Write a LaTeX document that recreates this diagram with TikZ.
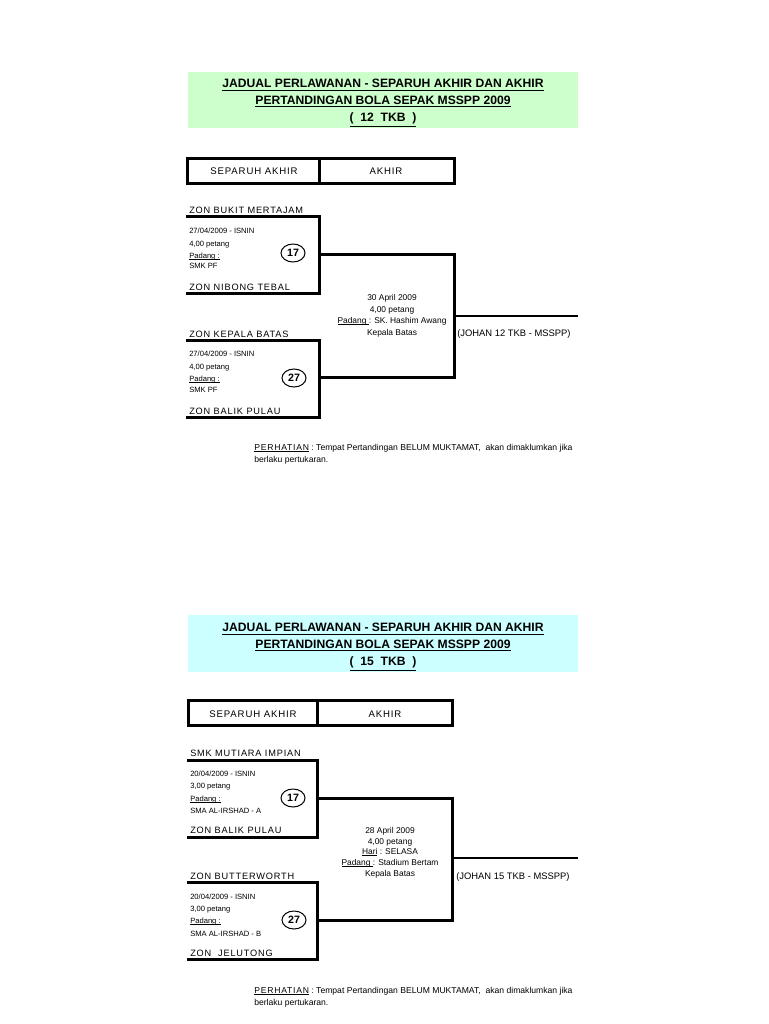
\documentclass[tikz,border=0pt]{standalone}
\usepackage{fontspec}
\setmainfont{Liberation Sans}
\newfontfamily\spc[LetterSpace=9]{Liberation Sans}
\usetikzlibrary{shapes.geometric}
\definecolor{tgreen}{RGB}{204,255,204}
\definecolor{tcyan}{RGB}{204,255,255}
\newcommand\myul[1]{\setbox0\hbox{#1}\rlap{\rule[-0.9pt]{\wd0}{0.5pt}}{#1}}
\tikzset{
  px/.style={x=0.75pt,y=-0.75pt},
  bl/.style={line width=2.25pt,line cap=rect},
  jl/.style={line width=1.6pt},
  titletext/.style={align=center,inner sep=0pt,font=\bfseries\fontsize{9.1}{12.6}\selectfont},
  hdr/.style={inner sep=0pt,font=\spc\fontsize{7.2}{8}\selectfont},
  zone/.style={anchor=west,inner sep=0pt,text height=5pt,text depth=0.5pt,font=\spc\fontsize{6.9}{8}\selectfont},
  info/.style={anchor=west,inner sep=0pt,text height=4.2pt,text depth=1.4pt,font=\fontsize{5.7}{6}\selectfont},
  midtxt/.style={inner sep=0pt,text height=4.6pt,text depth=1.5pt,font=\fontsize{6.3}{7}\selectfont},
  johan/.style={anchor=west,inner sep=0pt,text height=5pt,text depth=1.6pt,font=\fontsize{7.05}{8}\selectfont},
  note/.style={anchor=west,inner sep=0pt,text height=4.6pt,text depth=1.5pt,font=\fontsize{6.45}{7}\selectfont},
  numel/.style={ellipse,draw,line width=0.75pt,minimum width=18pt,minimum height=13.5pt,inner sep=0pt,font=\bfseries\fontsize{8}{9}\selectfont}
}
\begin{document}
\begin{tikzpicture}[px]
\useasboundingbox (0,0) rectangle (768,1024);
\fill[white] (0,0) rectangle (768,1024);

% ================= PART 1 =================
\fill[tgreen] (188,72) rectangle (578,128);
\node[titletext] (title1) at (383,103) {\underline{JADUAL PERLAWANAN - SEPARUH AKHIR DAN AKHIR}\\\underline{PERTANDINGAN BOLA SEPAK MSSPP 2009}\\\underline{(\ \ 12\ \ TKB\ \ )}};

\draw[bl] (187,158) rectangle (454,183);
\draw[bl] (319,158) -- (319,183);
\node[hdr] (h1a) at (254,171) {SEPARUH AKHIR};
\node[hdr] (h1b) at (386,171) {AKHIR};

% bracket A
\coordinate (aTL) at (187,216); \coordinate (aTR) at (319,216);
\coordinate (aBR) at (319,293); \coordinate (aBL) at (187,293);
\coordinate (aM) at (319,254);
\draw[bl] (aTL) -- (aTR) -- (aBR) -- (aBL);
\node[zone] (aTop) at (189,210) {ZON BUKIT MERTAJAM};
\node[zone] (aBot) at (189,287) {ZON NIBONG TEBAL};
\node[info] (aI1) at (189,232) {27/04/2009 - ISNIN};
\node[info] (aI2) at (189,245) {4,00 petang};
\node[info] (aI3) at (189,257) {\myul{Padang :}};
\node[info] (aI4) at (189,267) {SMK PF};
\node[numel] (aN) at (293,253) {17};

% bracket B
\coordinate (bTL) at (187,340); \coordinate (bTR) at (319,340);
\coordinate (bBR) at (319,417); \coordinate (bBL) at (187,417);
\coordinate (bM) at (319,377);
\draw[bl] (bTL) -- (bTR) -- (bBR) -- (bBL);
\node[zone] (bTop) at (189,334) {ZON KEPALA BATAS};
\node[zone] (bBot) at (189,411) {ZON BALIK PULAU};
\node[info] (bI1) at (189,355) {27/04/2009 - ISNIN};
\node[info] (bI2) at (189,368) {4,00 petang};
\node[info] (bI3) at (189,380) {\myul{Padang :}};
\node[info] (bI4) at (189,391) {SMK PF};
\node[numel] (bN) at (294,378) {27};

% final 1
\coordinate (fT) at (454,254); \coordinate (fB) at (454,377);
\coordinate (fM) at (454,316); \coordinate (fE) at (578,316);
\draw[bl] (aM) -- (fT) -- (fB) -- (bM);
\draw[jl] (fM) -- (fE);
\node[midtxt] (fI1) at (392,298) {30 April 2009};
\node[midtxt] (fI2) at (392,310) {4,00 petang};
\node[midtxt] (fI3) at (392,321) {\myul{Padang }: SK. Hashim Awang};
\node[midtxt] (fI4) at (392,333) {Kepala Batas};
\node[johan] (fJ) at (457,334) {(JOHAN 12 TKB - MSSPP)};

\node[note] (n1a) at (254,448) {\myul{\spc PERHATIAN} : Tempat Pertandingan BELUM MUKTAMAT,\ \ akan dimaklumkan jika};
\node[note] (n1b) at (254,460) {berlaku pertukaran.};

% ================= PART 2 =================
\fill[tcyan] (188,615) rectangle (578,672);
\node[titletext] (title2) at (383,647) {\underline{JADUAL PERLAWANAN - SEPARUH AKHIR DAN AKHIR}\\\underline{PERTANDINGAN BOLA SEPAK MSSPP 2009}\\\underline{(\ \ 15\ \ TKB\ \ )}};

\draw[bl] (188,700) rectangle (452,725);
\draw[bl] (317,700) -- (317,725);
\node[hdr] (h2a) at (253,714) {SEPARUH AKHIR};
\node[hdr] (h2b) at (385,714) {AKHIR};

% bracket C
\coordinate (cTL) at (188,760); \coordinate (cTR) at (317,760);
\coordinate (cBR) at (317,837); \coordinate (cBL) at (188,837);
\coordinate (cM) at (317,798);
\draw[bl] (cTL) -- (cTR) -- (cBR) -- (cBL);
\node[zone] (cTop) at (190,753) {SMK MUTIARA IMPIAN};
\node[zone] (cBot) at (190,830) {ZON BALIK PULAU};
\node[info] (cI1) at (190,775) {20/04/2009 - ISNIN};
\node[info] (cI2) at (190,787) {3,00 petang};
\node[info] (cI3) at (190,800) {\myul{Padang :}};
\node[info] (cI4) at (190,812) {SMA AL-IRSHAD - A};
\node[numel] (cN) at (293,798) {17};

% bracket D
\coordinate (dTL) at (188,882); \coordinate (dTR) at (317,882);
\coordinate (dBR) at (317,959); \coordinate (dBL) at (188,959);
\coordinate (dM) at (317,920);
\draw[bl] (dTL) -- (dTR) -- (dBR) -- (dBL);
\node[zone] (dTop) at (190,876) {ZON BUTTERWORTH};
\node[zone] (dBot) at (190,953) {ZON\ \ JELUTONG};
\node[info] (dI1) at (190,898) {20/04/2009 - ISNIN};
\node[info] (dI2) at (190,910) {3,00 petang};
\node[info] (dI3) at (190,922) {\myul{Padang :}};
\node[info] (dI4) at (190,935) {SMA AL-IRSHAD - B};
\node[numel] (dN) at (294,920) {27};

% final 2
\coordinate (gT) at (452,798); \coordinate (gB) at (452,920);
\coordinate (gM) at (452,858); \coordinate (gE) at (578,858);
\draw[bl] (cM) -- (gT) -- (gB) -- (dM);
\draw[jl] (gM) -- (gE);
\node[midtxt] (gI1) at (390,831) {28 April 2009};
\node[midtxt] (gI2) at (390,842) {4,00 petang};
\node[midtxt] (gI3) at (390,852) {\myul{Hari} : SELASA};
\node[midtxt] (gI4) at (390,863) {\myul{Padang }: Stadium Bertam};
\node[midtxt] (gI5) at (390,874) {Kepala Batas};
\node[johan] (gJ) at (456,877) {(JOHAN 15 TKB - MSSPP)};

\node[note] (n2a) at (254,991) {\myul{\spc PERHATIAN} : Tempat Pertandingan BELUM MUKTAMAT,\ \ akan dimaklumkan jika};
\node[note] (n2b) at (254,1003) {berlaku pertukaran.};
\end{tikzpicture}
\end{document}
